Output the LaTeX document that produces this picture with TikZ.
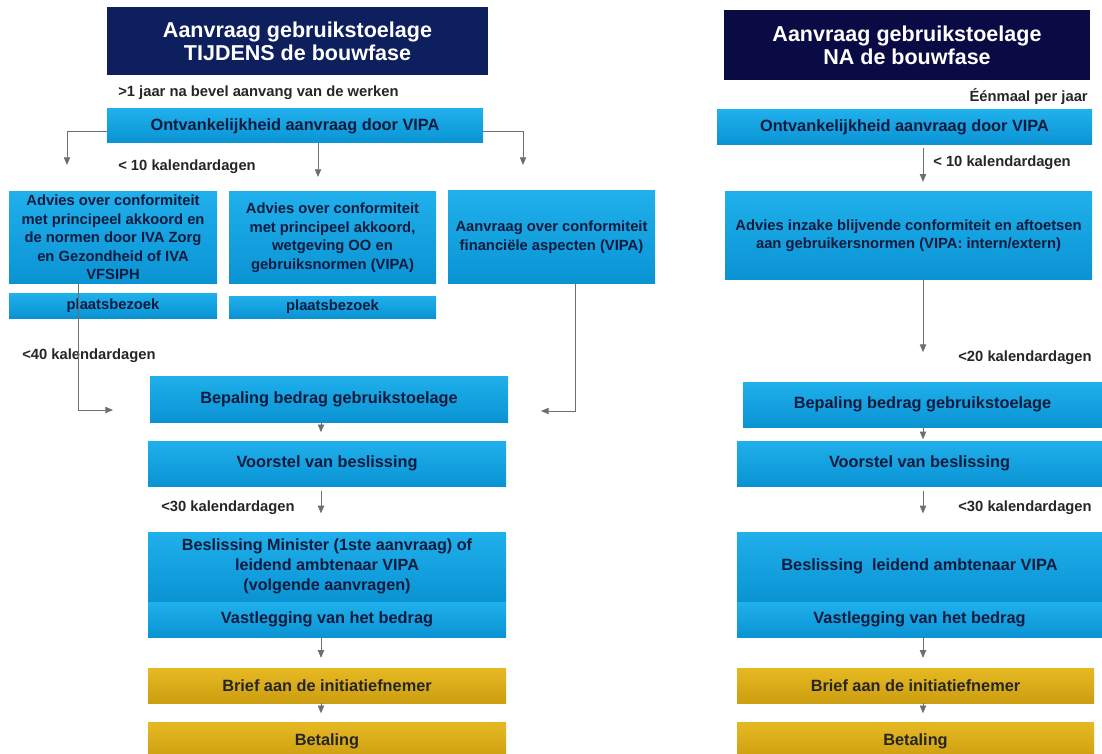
\documentclass[tikz,border=0pt]{standalone}
\usepackage{fontspec}
\setmainfont{Liberation Sans}
\usetikzlibrary{positioning, arrows.meta}
\definecolor{vipablauw}{HTML}{20B0EC}
\definecolor{vipablauwd}{HTML}{0A93D3}
\definecolor{vipagoud}{HTML}{E6B923}
\definecolor{vipagoudd}{HTML}{CC9E10}
\definecolor{titelL}{HTML}{0E1F5D}
\definecolor{titelR}{HTML}{0A0B45}
\definecolor{tekstblauw}{HTML}{0D1B3E}
\definecolor{pijlgrijs}{HTML}{6E6E6E}

\begin{document}
\begin{tikzpicture}[x=0.025cm, y=-0.025cm, >={Triangle[width=4.5pt,length=5.5pt]},
        maat/.style 2 args={minimum width=#1*0.025cm, minimum height=#2*0.025cm},
        blok/.style={rectangle, inner sep=0, align=center, text=tekstblauw,
          font=\bfseries\fontsize{11.6}{14.2}\selectfont,
          top color=vipablauw, bottom color=vipablauwd},
        advies/.style={blok, font=\bfseries\fontsize{10.5}{13.2}\selectfont},
        goud/.style={blok, text=black!85, top color=vipagoud, bottom color=vipagoudd},
        titel/.style={rectangle, inner sep=0, align=center, text=white,
          font=\bfseries\fontsize{15.3}{16.5}\selectfont},
        lbl/.style={inner sep=0, text=black!85, font=\bfseries\fontsize{10.5}{12}\selectfont},
        pijl/.style={->, draw=pijlgrijs, line width=0.6pt}]
        \useasboundingbox (0,0) rectangle (1102,754);
        \clip (0,0) rectangle (1102,754);
        % TIJDENS de bouwfase
        \node[titel, fill=titelL, maat={381}{68}] (titL) at (297.5,41) {Aanvraag gebruikstoelage\\TIJDENS de bouwfase};
        \node[lbl, anchor=west] (jaar) at (118,93) {>1 jaar na bevel aanvang van de werken};
        \node[blok, maat={376}{34}] (ontvL) at (295,126) {Ontvankelijkheid aanvraag door VIPA};
        \node[lbl, anchor=west] (dagen10L) at (118,167) {< 10 kalendardagen};
        \node[advies, maat={208}{91}] (advA) at (113,237.5) {Advies over conformiteit\\met principeel akkoord en\\de normen door IVA Zorg\\en Gezondheid of IVA\\VFSIPH};
        \node[advies, maat={207}{91}] (advB) at (332.5,237.5) {Advies over conformiteit\\met principeel akkoord,\\wetgeving OO en\\gebruiksnormen (VIPA)};
        \node[advies, maat={207}{92}] (aanC) at (551.5,237) {Aanvraag over conformiteit\\financiële aspecten (VIPA)};
        \node[advies, maat={208}{25}] (plaA) at (113,305.5) {plaatsbezoek};
        \node[advies, maat={207}{22}] (plaB) at (332.5,307) {plaatsbezoek};
        \node[lbl, anchor=west] (dagen40) at (22,356) {<40 kalendardagen};
        \node[blok, maat={358}{46}] (bepL) at (329,399) {Bepaling bedrag gebruikstoelage};
        \node[blok, maat={358}{45}] (voorL) at (327,463.5) {Voorstel van beslissing};
        \node[lbl, anchor=west] (dagen30L) at (161,508) {<30 kalendardagen};
        \node[blok, maat={358}{69}, font=\bfseries\fontsize{11.5}{14.2}\selectfont] (beslL) at (327,566.5) {Beslissing Minister (1ste aanvraag) of\\leidend ambtenaar VIPA\\(volgende aanvragen)};
        \node[blok, maat={358}{35}] (vastL) at (327,619.5) {Vastlegging van het bedrag};
        \node[goud, maat={358}{35}] (briefL) at (327,685.5) {Brief aan de initiatiefnemer};
        \node[goud, maat={358}{38}] (betL) at (327,741) {Betaling};
        % NA de bouwfase
        \node[titel, fill=titelR, maat={366}{70}] (titR) at (907,45) {Aanvraag gebruikstoelage\\NA de bouwfase};
        \node[lbl, anchor=east] (jaarR) at (1088,96) {Éénmaal per jaar};
        \node[blok, maat={375}{35}] (ontvR) at (904.5,127.5) {Ontvankelijkheid aanvraag door VIPA};
        \node[lbl, anchor=west] (dagen10R) at (933,163) {< 10 kalendardagen};
        \node[advies, maat={367}{87}] (advR) at (908.5,235.5) {Advies inzake blijvende conformiteit en aftoetsen\\aan gebruikersnormen (VIPA: intern/extern)};
        \node[lbl, anchor=east] (dagen20) at (1092,358) {<20 kalendardagen};
        \node[blok, maat={359}{45}] (bepR) at (922.5,404.5) {Bepaling bedrag gebruikstoelage};
        \node[blok, maat={365}{45}] (voorR) at (919.5,463.5) {Voorstel van beslissing};
        \node[lbl, anchor=east] (dagen30R) at (1092,508) {<30 kalendardagen};
        \node[blok, maat={365}{69}] (beslR) at (919.5,566.5) {Beslissing\ \ leidend ambtenaar VIPA};
        \node[blok, maat={365}{35}] (vastR) at (919.5,619.5) {Vastlegging van het bedrag};
        \node[goud, maat={357}{35}] (briefR) at (915.5,685.5) {Brief aan de initiatiefnemer};
        \node[goud, maat={357}{38}] (betR) at (915.5,741) {Betaling};
        % pijlen links
        \coordinate (lA) at (67,165);
        \coordinate (mB) at (318,177);
        \coordinate (rC) at (523,165);
        \coordinate (kA) at (78,410);
        \coordinate (inL) at (113,410);
        \coordinate (kC) at (575,411);
        \coordinate (inR) at (541,411);
        \coordinate (asL) at (321,0);
        \draw[pijl] ([yshift=-4pt]ontvL.west) -| (lA);
        \draw[pijl] (ontvL.south -| mB) -- (mB);
        \draw[pijl] ([yshift=-4pt]ontvL.east) -| (rC);
        \draw[pijl] (advA.south -| kA) |- (inL);
        \draw[pijl] (aanC.south -| kC) |- (inR);
        \draw[pijl, shorten >=6pt] (bepL.south -| asL) -- (voorL.north -| asL);
        \draw[pijl, shorten <=3pt, shorten >=13pt] (voorL.south -| asL) -- (beslL.north -| asL);
        \draw[pijl, shorten >=7pt] (vastL.south -| asL) -- (briefL.north -| asL);
        \draw[pijl, shorten >=6pt] (briefL.south -| asL) -- (betL.north -| asL);
        % pijlen rechts
        \coordinate (asR) at (923,0);
        \draw[pijl, shorten <=2pt, shorten >=7pt] (ontvR.south -| asR) -- (advR.north -| asR);
        \draw[pijl, shorten >=21pt] (advR.south -| asR) -- (bepR.north -| asR);
        \draw[pijl, shorten >=1pt] (bepR.south -| asR) -- (voorR.north -| asR);
        \draw[pijl, shorten <=3pt, shorten >=13pt] (voorR.south -| asR) -- (beslR.north -| asR);
        \draw[pijl, shorten >=7pt] (vastR.south -| asR) -- (briefR.north -| asR);
        \draw[pijl, shorten >=6pt] (briefR.south -| asR) -- (betR.north -| asR);
\end{tikzpicture}
\end{document}
